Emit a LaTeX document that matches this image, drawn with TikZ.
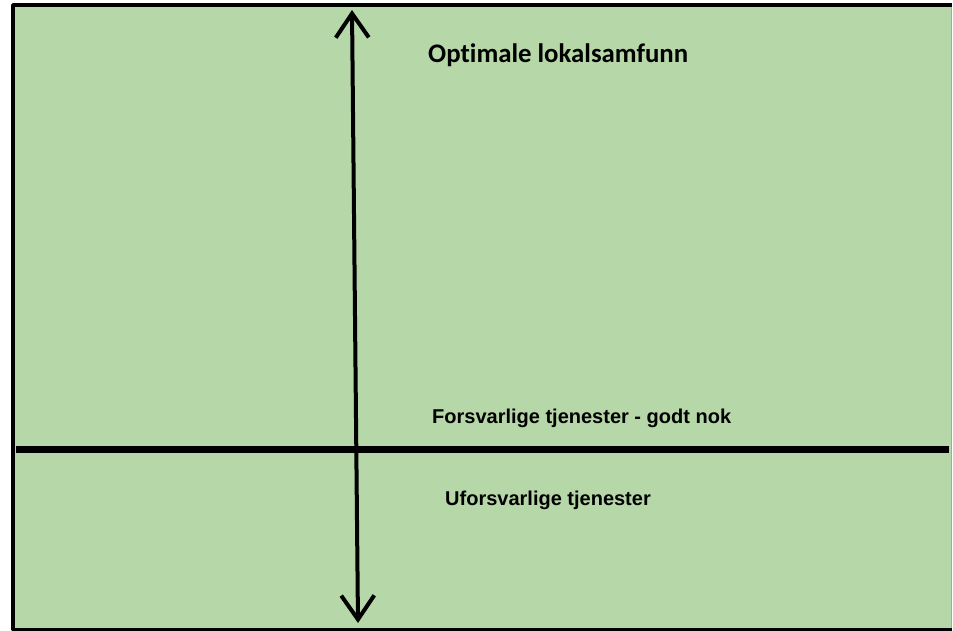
\documentclass[tikz,border=0pt]{standalone}
\usepackage{fontspec}
\usepackage{xcolor}
\usepackage{tikz}
\usetikzlibrary{arrows.meta}
\newfontfamily\calibrifont[Ligatures=NoCommon]{Carlito}
\newfontfamily\arialfont{Liberation Sans}
\definecolor{felt}{HTML}{B6D7A8}
\tikzset{
  merkelapp/.style={inner sep=0pt,anchor=base west,font=\arialfont\bfseries\fontsize{20}{22}\selectfont},
}
\begin{document}
\begin{tikzpicture}[x=1pt,y=-1pt,>={Straight Barb[length=24pt,width=33pt]},line join=round]
  \useasboundingbox (0,0) rectangle (953,631);
  \fill[white] (0,0) rectangle (953,631);
  \coordinate (HV) at (13,5);
  \coordinate (NH) at (951.5,629.5);
  \coordinate (Topp) at (352,10);
  \coordinate (Bunn) at (358,623);
  \coordinate (GrenseV) at (16,449.5);
  \coordinate (GrenseH) at (949,449.5);
  \fill[felt] (HV) rectangle (NH);
  \draw[line width=1.5pt,gray!70] (NH) -- (NH |- HV);
  \draw[line width=3.5pt] (NH |- HV) -- (HV) -- (HV |- NH) -- (NH);
  \draw[line width=7pt] (GrenseV) -- (GrenseH);
  \draw[line width=4pt,<->] (Bunn) -- (Topp);
  \node[inner sep=0pt,anchor=base west,font=\calibrifont\bfseries\fontsize{26.8}{30}\selectfont] (optimal) at (428,63) {Optimale lokalsamfunn};
  \node[merkelapp] (forsvarlig) at (432,423) {Forsvarlige tjenester - godt nok};
  \node[merkelapp] (uforsvarlig) at (445,505) {Uforsvarlige tjenester};
\end{tikzpicture}
\end{document}
